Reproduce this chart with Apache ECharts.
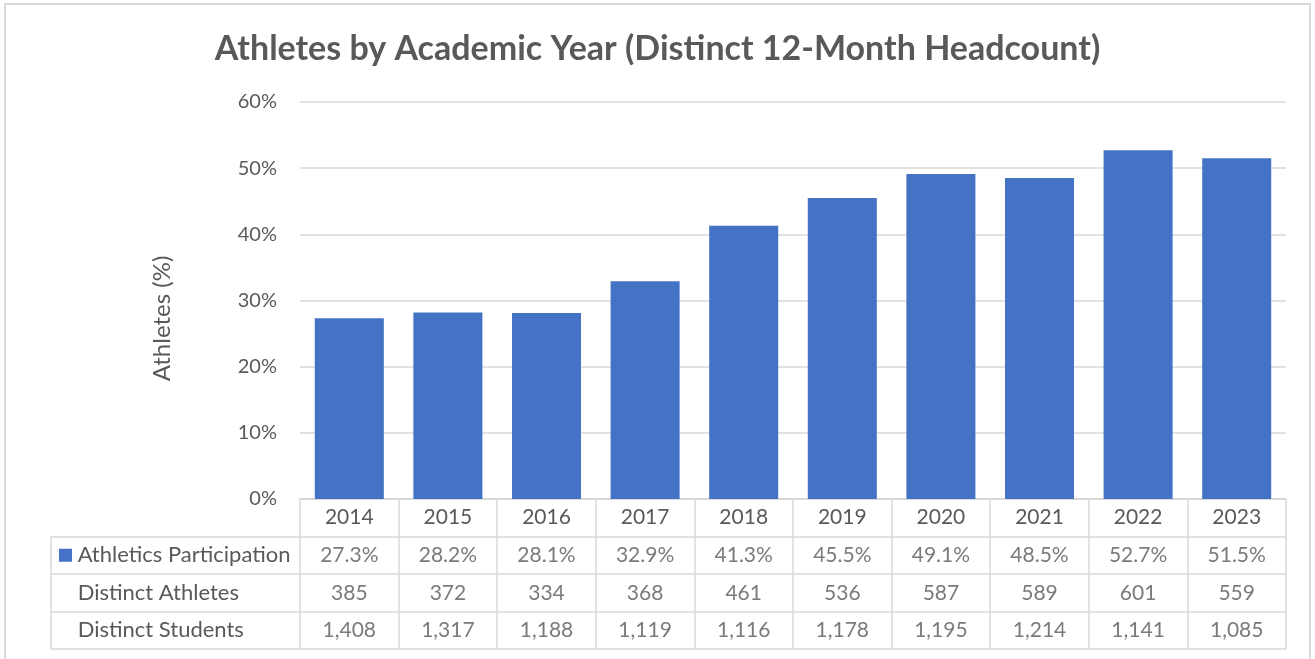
<!DOCTYPE html>
<html>
<head>
<meta charset="utf-8">
<title>Athletes by Academic Year</title>
<script src="https://cdn.jsdelivr.net/npm/echarts@6/dist/echarts.min.js"></script>
<style>
    html, body { margin: 0; padding: 0; background: #fff; }
    #frame { position: absolute; left: 4px; top: 3px; width: 1307px; height: 700px; border: 2px solid #d9d9d9; box-sizing: border-box; }
    #chart { position: absolute; left: 0; top: 0; width: 1315px; height: 659px; }
</style>
</head>
<body>
<div id="frame"></div>
<div id="chart"></div>
<script>
/* chart data */
var years = ['2014', '2015', '2016', '2017', '2018', '2019', '2020', '2021', '2022', '2023'];
var participation = [27.3, 28.2, 28.1, 32.9, 41.3, 45.5, 49.1, 48.5, 52.7, 51.5];
var athletes = [385, 372, 334, 368, 461, 536, 587, 589, 601, 559];
var students = [1408, 1317, 1188, 1119, 1116, 1178, 1195, 1214, 1141, 1085];
var rowNames = ['Athletics Participation', 'Distinct Athletes', 'Distinct Students'];
var yMin = 0, yMax = 60, yStep = 10;

var textColor = '#595959';
var lineColor = '#d9d9d9';
var barColor = '#4472C4';
var font = 'Lato';
var cellSize = 21;

/* one label-only series per table row */
function tableRow(values, rowIndex, fmt) {
    return {
        type: 'scatter',
        xAxisIndex: 1,
        yAxisIndex: 1,
        symbol: 'rect',
        symbolSize: 1,
        silent: true,
        itemStyle: { color: 'rgba(0,0,0,0)' },
        label: {
            show: true,
            position: 'inside',
            color: textColor,
            fontFamily: font,
            fontSize: cellSize,
            formatter: function (p) { return fmt(values[p.dataIndex]); }
        },
        data: values.map(function (v, i) { return [i, rowIndex]; })
    };
}

var chart = echarts.init(document.getElementById('chart'));

var option = {
    animation: false,
    textStyle: { fontFamily: font },
    title: {
        text: 'Athletes by Academic Year (Distinct 12-Month Headcount)',
        left: 'center',
        top: 27,
        textStyle: { fontFamily: font, fontSize: 34, fontWeight: 'bold', color: textColor }
    },
    grid: [
        { left: 300, right: 29, top: 102, height: 397 },
        { left: 300, right: 29, top: 499, height: 150 },
        { left: 51, width: 249, top: 536.5, height: 112.5 }
    ],
    xAxis: [
        {
            type: 'category',
            gridIndex: 0,
            data: years,
            axisLine: { show: true, lineStyle: { color: lineColor, width: 1.5 } },
            axisTick: { show: false },
            axisLabel: { color: textColor, fontSize: cellSize, margin: 8, fontFamily: font }
        },
        {
            type: 'category',
            gridIndex: 1,
            data: years,
            axisLine: { show: false },
            axisTick: { show: false },
            axisLabel: { show: false },
            splitLine: { show: true, lineStyle: { color: lineColor, width: 1.5 } }
        },
        {
            type: 'value',
            gridIndex: 2,
            show: false
        }
    ],
    yAxis: [
        {
            type: 'value',
            gridIndex: 0,
            min: yMin,
            max: yMax,
            interval: yStep,
            name: 'Athletes (%)',
            nameLocation: 'middle',
            nameGap: 126,
            nameTextStyle: { color: textColor, fontSize: 24, fontFamily: font, padding: [0, 36, 0, 0] },
            axisLine: { show: false },
            axisTick: { show: false },
            axisLabel: { color: textColor, fontSize: 20, margin: 23, fontFamily: font, formatter: '{value}%' },
            splitLine: { lineStyle: { color: lineColor, width: 1.5 } }
        },
        {
            type: 'category',
            gridIndex: 1,
            inverse: true,
            data: ['', rowNames[0], rowNames[1], rowNames[2]],
            axisLine: { show: false },
            axisTick: { show: false },
            axisLabel: { show: false },
            splitLine: { show: true, lineStyle: { color: lineColor, width: 1.5 } }
        },
        {
            type: 'category',
            gridIndex: 2,
            inverse: true,
            data: rowNames,
            axisLine: { show: true, lineStyle: { color: lineColor, width: 1.5 } },
            axisTick: { show: false },
            splitLine: { show: true, lineStyle: { color: lineColor, width: 1.5 } },
            axisLabel: {
                inside: true,
                margin: 8,
                color: textColor,
                fontSize: 22,
                fontFamily: font,
                formatter: function (v, i) {
                    return (i === 0 ? '{sq|}' : '{gap|}') + ' ' + v;
                },
                rich: {
                    sq: { width: 13, height: 13, backgroundColor: barColor },
                    gap: { width: 13, height: 13 }
                }
            }
        }
    ],
    series: [
        {
            name: 'Athletics Participation',
            type: 'bar',
            xAxisIndex: 0,
            yAxisIndex: 0,
            barCategoryGap: '30%',
            itemStyle: { color: barColor },
            data: participation
        },
        tableRow(participation, 1, function (v) { return v.toFixed(1) + '%'; }),
        tableRow(athletes, 2, function (v) { return String(v); }),
        tableRow(students, 3, function (v) { return v.toLocaleString('en-US'); })
    ]
};

chart.setOption(option);
</script>
</body>
</html>
